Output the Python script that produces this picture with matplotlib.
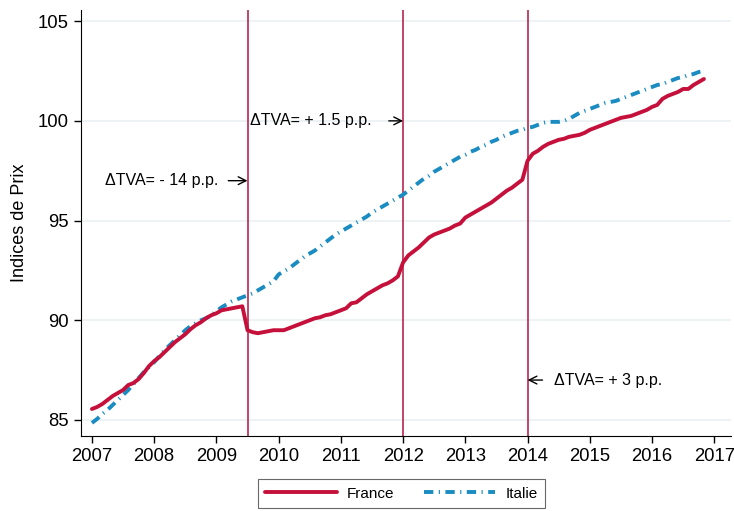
import numpy as np
import matplotlib
matplotlib.use("Agg")
from matplotlib import pyplot as plt

plt.rcParams['font.family'] = ['Liberation Sans', 'DejaVu Sans']

# monthly series, Jan 2007 - Nov 2016
france = [
	85.55, 85.65, 85.8, 86.0, 86.2, 86.35, 86.5, 86.75, 86.85, 87.05, 87.35, 87.7,
	87.95, 88.15, 88.4, 88.65, 88.9, 89.1, 89.3, 89.55, 89.75, 89.9, 90.1, 90.25,
	90.35, 90.5, 90.55, 90.6, 90.65, 90.7, 89.5, 89.4, 89.35, 89.4, 89.45, 89.5,
	89.5, 89.5, 89.6, 89.7, 89.8, 89.9, 90.0, 90.1, 90.15, 90.25, 90.3, 90.4,
	90.5, 90.6, 90.85, 90.9, 91.1, 91.3, 91.45, 91.6, 91.75, 91.85, 92.0, 92.2,
	92.9, 93.25, 93.45, 93.65, 93.9, 94.15, 94.3, 94.4, 94.5, 94.6, 94.75, 94.85,
	95.15, 95.3, 95.45, 95.6, 95.75, 95.9, 96.1, 96.3, 96.5, 96.65, 96.85, 97.05,
	98.0, 98.35, 98.5, 98.7, 98.85, 98.95, 99.05, 99.1, 99.2, 99.25, 99.3, 99.4,
	99.55, 99.65, 99.75, 99.85, 99.95, 100.05, 100.15, 100.2, 100.25, 100.35, 100.45, 100.55,
	100.7, 100.8, 101.1, 101.25, 101.35, 101.45, 101.6, 101.6, 101.8, 101.95, 102.1,
]
italie = [
	84.85, 85.05, 85.3, 85.5, 85.75, 86.0, 86.25, 86.5, 86.8, 87.1, 87.4, 87.65,
	87.9, 88.2, 88.5, 88.75, 89.0, 89.25, 89.5, 89.7, 89.85, 90.0, 90.1, 90.25,
	90.45, 90.65, 90.8, 90.95, 91.05, 91.15, 91.25, 91.35, 91.5, 91.65, 91.8, 91.95,
	92.3, 92.45, 92.6, 92.8, 93.0, 93.2, 93.35, 93.5, 93.7, 93.9, 94.1, 94.3,
	94.45, 94.6, 94.75, 94.9, 95.05, 95.2, 95.4, 95.55, 95.7, 95.85, 96.0, 96.15,
	96.3, 96.5, 96.7, 96.9, 97.1, 97.25, 97.45, 97.6, 97.75, 97.9, 98.05, 98.2,
	98.3, 98.45, 98.55, 98.7, 98.8, 98.95, 99.05, 99.2, 99.3, 99.4, 99.5, 99.55,
	99.65, 99.7, 99.8, 99.9, 99.95, 99.95, 99.95, 100.0, 100.1, 100.25, 100.4, 100.5,
	100.6, 100.7, 100.8, 100.9, 100.95, 101.0, 101.1, 101.2, 101.3, 101.4, 101.5, 101.6,
	101.7, 101.8, 101.85, 101.95, 102.05, 102.15, 102.2, 102.3, 102.35, 102.45, 102.5,
]
time = 2007 + np.arange(len(france)) / 12.0

vat_dates = [2009.5, 2012, 2014]
years = list(range(2007, 2018))
yticks = [85, 90, 95, 100, 105]

red = '#c4103a'
blue = '#1a8cc1'

fig = plt.figure(figsize=(7.34, 5.11), dpi=100)
ax = fig.add_axes([0.110, 0.147, 0.886, 0.833])

for y in yticks:
	ax.axhline(y, color='#eaf1f3', lw=1.2, zorder=0)
for d in vat_dates:
	ax.axvline(d, color='#b3123e', lw=1.1, zorder=1)

ax.plot(time, france, color=red, lw=2.8, solid_capstyle='round', label='France', zorder=3)
ax.plot(time, italie, color=blue, lw=2.8, linestyle=(0, (2.4, 1.4, 0.3, 1.4)),
	dash_capstyle='butt', label='Italie', zorder=2)

ax.set_xlim(2006.82, 2017.27)
ax.set_ylim(84.2, 105.55)
ax.set_xticks(years)
ax.set_yticks(yticks)
ax.tick_params(labelsize=13.3, length=5, width=1, direction='out')
ax.set_ylabel('Indices de Prix', fontsize=13, labelpad=7)
for s in ['top', 'right']:
	ax.spines[s].set_visible(False)

fs = 11.5
arrow = dict(arrowstyle='->', color='black', lw=1, shrinkA=0, shrinkB=0, mutation_scale=14)
ax.text(2009.03, 97, '\u0394TVA= - 14 p.p.', fontsize=fs, ha='right', va='center')
ax.annotate('', xy=(2009.5, 97), xytext=(2009.19, 97), arrowprops=arrow)
ax.text(2009.54, 100, '\u0394TVA= + 1.5 p.p.', fontsize=fs, ha='left', va='center')
ax.annotate('', xy=(2012, 100), xytext=(2011.77, 100), arrowprops=arrow)
ax.text(2014.42, 87, '\u0394TVA= + 3 p.p.', fontsize=fs, ha='left', va='center')
ax.annotate('', xy=(2014, 87), xytext=(2014.24, 87), arrowprops=arrow)

leg = fig.legend(loc='center', bbox_to_anchor=(0.547, 0.034), ncol=2, fontsize=11,
	handlelength=4.7, columnspacing=1.9, handletextpad=0.65, fancybox=False,
	edgecolor='#444444', borderpad=0.5)
leg.get_frame().set_linewidth(0.8)

fig.savefig('out.png', dpi=100)
